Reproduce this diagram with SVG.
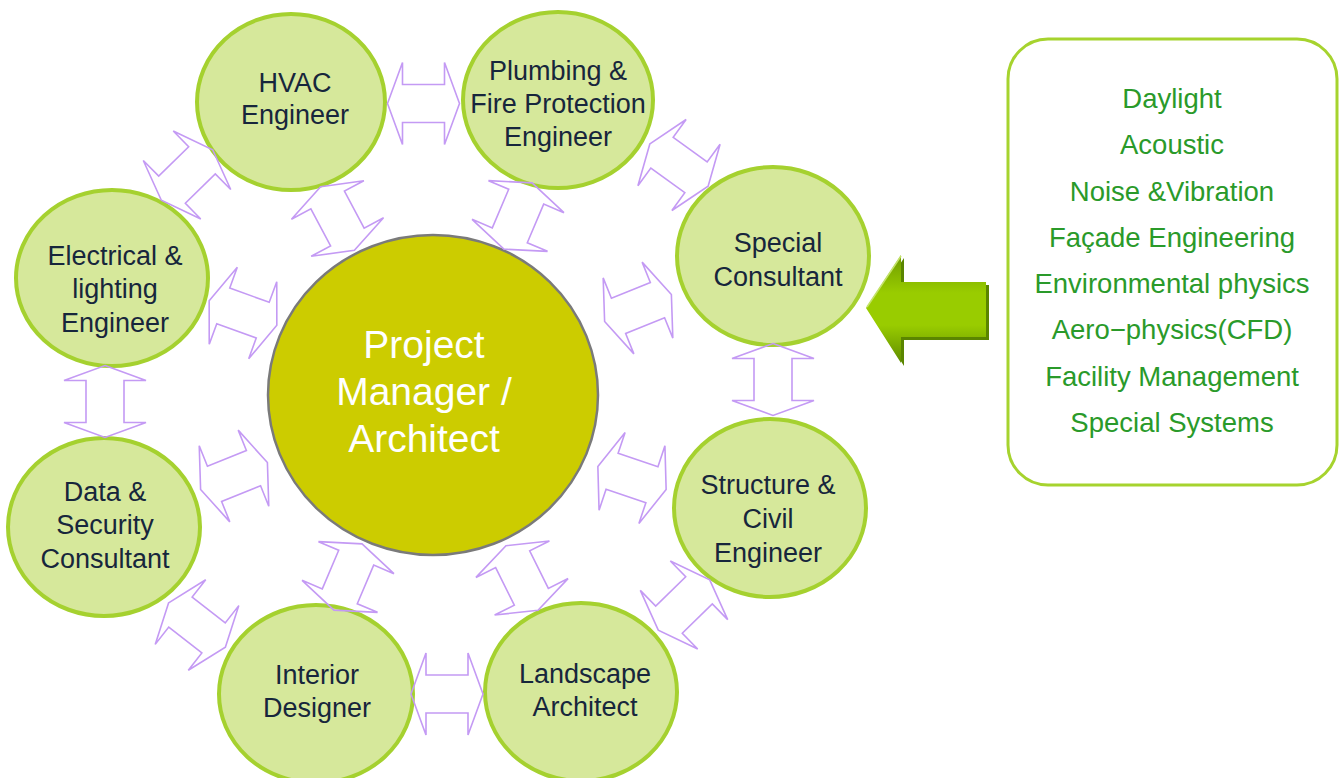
<svg xmlns="http://www.w3.org/2000/svg" xmlns:xlink="http://www.w3.org/1999/xlink" width="1343" height="778" viewBox="0 0 1343 778">
<style>
.sat{fill:#d6e89b;stroke:#a5d12f;stroke-width:4}
.hub{fill:#cccc00;stroke:#7a7a7a;stroke-width:2.5}
.lbl{font-family:"Liberation Sans",Arial,sans-serif;font-size:27px;fill:#17263c;text-anchor:middle}
.hubt{font-family:"Liberation Sans",Arial,sans-serif;font-size:39px;fill:#ffffff;text-anchor:middle}
.boxt{font-family:"Liberation Sans",Arial,sans-serif;font-size:27.5px;fill:#2a9a2a;text-anchor:middle}
.dbl{fill:none;stroke:#c49af4;stroke-width:1.6;stroke-linejoin:miter}
</style>
<defs>
<polygon id="dbl" points="-36,0 -21,-41 -21,-19 21,-19 21,-41 36,0 21,41 21,19 -21,19 -21,41"/>
<linearGradient id="gArrow" x1="0" y1="0" x2="0" y2="1">
<stop offset="0" stop-color="#6f9c00"/>
<stop offset="0.35" stop-color="#99cc00"/>
<stop offset="0.65" stop-color="#99cc00"/>
<stop offset="1" stop-color="#5f8c00"/>
</linearGradient>
</defs>
<rect width="1343" height="778" fill="#ffffff"/>

<g id="hub">
<ellipse class="hub" cx="433" cy="395" rx="165" ry="160"/>
<text class="hubt" x="424" y="358">Project</text>
<text class="hubt" x="424" y="405">Manager /</text>
<text class="hubt" x="424" y="452">Architect</text>
</g>
<g id="hvac">
<ellipse class="sat" cx="291" cy="102" rx="94" ry="88"/>
<text class="lbl" x="295" y="92">HVAC</text>
<text class="lbl" x="295" y="124">Engineer</text>
</g>
<g id="plumbing">
<ellipse class="sat" cx="558" cy="100" rx="95" ry="88"/>
<text class="lbl" x="558" y="80">Plumbing &amp;</text>
<text class="lbl" x="558" y="113">Fire Protection</text>
<text class="lbl" x="558" y="146">Engineer</text>
</g>
<g id="special">
<ellipse class="sat" cx="773" cy="256" rx="96" ry="89"/>
<text class="lbl" x="778" y="252">Special</text>
<text class="lbl" x="778" y="286">Consultant</text>
</g>
<g id="structure">
<ellipse class="sat" cx="770" cy="508" rx="96" ry="89"/>
<text class="lbl" x="768" y="494">Structure &amp;</text>
<text class="lbl" x="768" y="528">Civil</text>
<text class="lbl" x="768" y="562">Engineer</text>
</g>
<g id="landscape">
<ellipse class="sat" cx="581" cy="692" rx="96" ry="89"/>
<text class="lbl" x="585" y="683">Landscape</text>
<text class="lbl" x="585" y="716">Architect</text>
</g>
<g id="interior">
<ellipse class="sat" cx="316" cy="694" rx="97" ry="89"/>
<text class="lbl" x="317" y="684">Interior</text>
<text class="lbl" x="317" y="717">Designer</text>
</g>
<g id="data">
<ellipse class="sat" cx="104" cy="527" rx="96" ry="89"/>
<text class="lbl" x="105" y="501">Data &amp;</text>
<text class="lbl" x="105" y="534">Security</text>
<text class="lbl" x="105" y="568">Consultant</text>
</g>
<g id="electrical">
<ellipse class="sat" cx="112" cy="278" rx="96" ry="88"/>
<text class="lbl" x="115" y="265">Electrical &amp;</text>
<text class="lbl" x="115" y="298">lighting</text>
<text class="lbl" x="115" y="332">Engineer</text>
</g>

<g id="connectors">
<use class="dbl" xlink:href="#dbl" transform="translate(423.5,103.5)"/>
<use class="dbl" xlink:href="#dbl" transform="translate(679,165) rotate(36)"/>
<use class="dbl" xlink:href="#dbl" transform="translate(773,379.5) rotate(90)"/>
<use class="dbl" xlink:href="#dbl" transform="translate(684,605) rotate(-44.4)"/>
<use class="dbl" xlink:href="#dbl" transform="translate(447,694)"/>
<use class="dbl" xlink:href="#dbl" transform="translate(197,625) rotate(38)"/>
<use class="dbl" xlink:href="#dbl" transform="translate(105,401.5) rotate(90)"/>
<use class="dbl" xlink:href="#dbl" transform="translate(187,175) rotate(-44.5)"/>
<use class="dbl" xlink:href="#dbl" transform="translate(337.5,218.5) rotate(62)"/>
<use class="dbl" xlink:href="#dbl" transform="translate(518,216) rotate(-67)"/>
<use class="dbl" xlink:href="#dbl" transform="translate(638,308) rotate(-22)"/>
<use class="dbl" xlink:href="#dbl" transform="translate(632,478) rotate(18.5)"/>
<use class="dbl" xlink:href="#dbl" transform="translate(522,578) rotate(63.6)"/>
<use class="dbl" xlink:href="#dbl" transform="translate(348,577) rotate(113)"/>
<use class="dbl" xlink:href="#dbl" transform="translate(234,476) rotate(-21.9)"/>
<use class="dbl" xlink:href="#dbl" transform="translate(243,313) rotate(20)"/>
</g>

<g id="block-arrow">
<polygon points="869,311 904,258 904,285 989,285 989,340 904,340 904,366" fill="#5a8500"/>
<polygon points="866,308 901,255 901,282 986,282 986,337 901,337 901,363" fill="url(#gArrow)"/>
<polyline points="867,307 901,256" fill="none" stroke="#c4e36a" stroke-width="1.5"/>
</g>

<g id="list-box">
<rect x="1008" y="39" width="329" height="446" rx="40" ry="40" fill="#ffffff" stroke="#a6d32e" stroke-width="3"/>
<text class="boxt" x="1172" y="108">Daylight</text>
<text class="boxt" x="1172" y="154">Acoustic</text>
<text class="boxt" x="1172" y="201">Noise &amp;Vibration</text>
<text class="boxt" x="1172" y="247">Façade Engineering</text>
<text class="boxt" x="1172" y="293">Environmental physics</text>
<text class="boxt" x="1172" y="339">Aero−physics(CFD)</text>
<text class="boxt" x="1172" y="386">Facility Management</text>
<text class="boxt" x="1172" y="432">Special Systems</text>
</g>
</svg>
